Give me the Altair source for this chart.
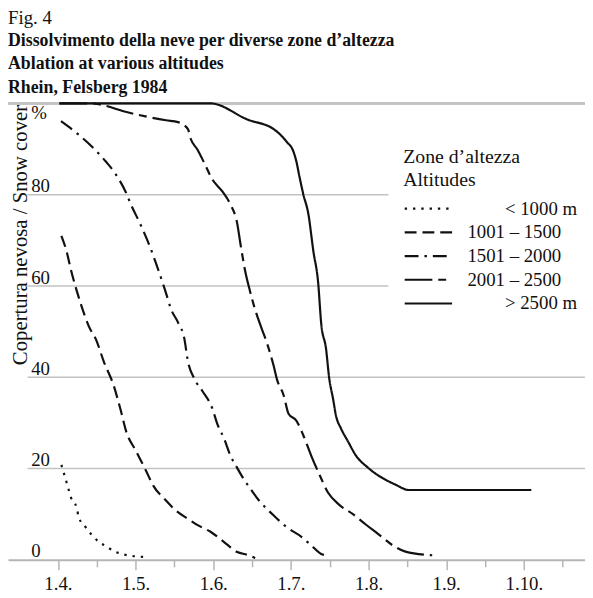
import altair as alt
import pandas as pd

SERIF = "Liberation Serif"
INK = "#111111"
GRID = "#c2c2c2"

# ---- data (x in months: 4 = 1.4., 5 = 1.5., ... ; y = snow cover %) ----
series_names = ["< 1000 m", "1001 – 1500", "1501 – 2000", "2001 – 2500", "> 2500 m"]
legend_indent = [True, False, False, False, True]

s1_x = [4.045, 4.12, 4.17, 4.24, 4.27, 4.36, 4.44, 4.53, 4.62, 4.72, 4.82, 4.94, 5.14]
s1_y = [20.8, 16.5, 13.6, 11.5, 9.3, 7.1, 5.4, 3.9, 3.0, 1.9, 1.3, 0.9, 0.6]

s2_x = [4.045, 4.11, 4.17, 4.24, 4.30, 4.40, 4.49, 4.59, 4.72, 4.81, 4.88, 5.00, 5.13,
        5.23, 5.38, 5.52, 5.70, 5.80, 5.97, 6.14, 6.31, 6.44, 6.54]
s2_y = [71.0, 67.7, 63.4, 59.1, 55.8, 51.1, 48.3, 43.5, 38.1, 32.7, 28.1, 24.0, 19.7,
        16.2, 13.2, 10.8, 8.7, 7.6, 6.1, 3.9, 1.7, 1.1, 0.4]

s3_x = [4.04, 4.27, 4.44, 4.62, 4.74, 4.87, 4.95, 5.06, 5.19, 5.25, 5.38, 5.46, 5.55,
        5.63, 5.67, 5.76, 5.86, 5.99, 6.05, 6.14, 6.22, 6.31, 6.40, 6.47, 6.59, 6.78,
        6.95, 7.14, 7.26, 7.39, 7.49]
s3_y = [96.1, 93.1, 90.5, 87.2, 84.6, 80.7, 77.5, 73.6, 68.4, 65.6, 59.1, 54.8, 51.9,
        48.3, 43.9, 39.6, 37.0, 33.1, 29.9, 26.6, 22.9, 20.1, 17.5, 15.8, 13.0, 9.7,
        7.1, 5.0, 3.2, 1.3, 0.9]

s4_x = [4.02, 4.45, 4.528, 4.884, 5.393, 5.546, 5.673, 5.711, 5.80, 5.889, 5.991, 6.118,
        6.22, 6.31, 6.35, 6.41, 6.47, 6.54, 6.63, 6.69, 6.78, 6.82, 6.91, 6.97, 7.07,
        7.16, 7.26, 7.37, 7.48, 7.62, 7.80, 7.96, 8.13, 8.31, 8.475, 8.82]
s4_y = [100.0, 100.0, 99.8, 98.1, 96.3, 95.9, 94.4, 92.2, 89.8, 86.8, 83.3, 80.7,
        77.9, 73.6, 69.3, 63.4, 59.1, 54.8, 50.4, 47.6, 42.4, 39.6, 35.9, 32.0, 30.5,
        27.3, 22.9, 18.6, 14.7, 12.1, 10.0, 7.8, 5.6, 3.2, 1.8, 1.0]

s5_x = [4.02, 5.966, 6.436, 6.792, 6.945, 7.034, 7.072, 7.11, 7.16, 7.225, 7.289, 7.352,
        7.39, 7.454, 7.492, 7.543, 7.581, 7.645, 7.734, 7.836, 8.0, 8.344, 8.523, 10.096]
s5_y = [100.0, 100.0, 96.5, 94.2, 91.6, 89.4, 87.2, 84.0, 80.1, 75.8, 67.7, 60.6,
        51.9, 46.1, 40.0, 35.3, 31.6, 28.8, 26.0, 22.9, 20.1, 16.5, 15.3, 15.3]

dash_patterns = [[2.4, 6], [12, 6], [14, 6, 2.5, 6], [28, 6, 8, 6], [1, 0]]

x_ticks = [4, 4.5, 5, 5.5, 6, 6.5, 7, 7.5, 8, 8.5, 9, 9.5, 10, 10.5]
x_tick_labels = ["1.4.", "1.5.", "1.6.", "1.7.", "1.8.", "1.9.", "1.10."]
y_ticks = [0, 20, 40, 60, 80, 100]
y_tick_labels = ["0", "20", "40", "60", "80", "%"]
grid_values = [20, 40, 60, 80]

x_min, x_max = 3.3575, 10.7875
grid_left = 3.61

# ---- build table ----
rows = []
for name, xs, ys in zip(series_names, [s1_x, s2_x, s3_x, s4_x, s5_x],
                        [s1_y, s2_y, s3_y, s4_y, s5_y]):
    for i, (a, b) in enumerate(zip(xs, ys)):
        rows.append({"zone": name, "month": a, "pct": b, "order": i})
df = pd.DataFrame(rows)
grid_df = pd.DataFrame({"pct": grid_values})


def js_list(items):
    return "[" + ",".join("'" + str(s) + "'" for s in items) + "]"


x_label_expr = "datum.value % 1 ? '' : " + js_list(x_tick_labels) + "[datum.value - 4]"
y_label_expr = js_list(y_tick_labels) + "[indexof([" + ",".join(str(v) for v in y_ticks) + "], datum.value)]"
# zero-width space keeps the indent from being trimmed
pad = "\u200b" + "\u00a0" * 8
legend_display = [(pad + n) if ind else n for n, ind in zip(series_names, legend_indent)]
legend_label_expr = js_list(legend_display) + "[indexof(" + js_list(series_names) + ", datum.label)]"

x_scale = alt.Scale(domain=[x_min, x_max], nice=False, zero=False)
y_scale = alt.Scale(domain=[0, 100], nice=False, zero=False)

x_axis = alt.Axis(
    values=x_ticks, labelExpr=x_label_expr, grid=False, title=None,
    domainColor="#b5b5b5", domainWidth=2, tickColor="#b5b5b5", tickWidth=1.5,
    tickSize={"condition": {"test": "datum.value % 1 === 0", "value": 10}, "value": 7},
    labelPadding=20, labelBaseline="alphabetic", labelFont=SERIF, labelFontSize=19,
    labelColor=INK, labelFlush=False, labelOverlap=False)
y_axis = alt.Axis(
    values=y_ticks, labelExpr=y_label_expr, grid=False, domain=False, ticks=False,
    labelAlign="left", labelPadding=-23, labelBaseline="alphabetic",
    labelOffset={"condition": {"test": "datum.value == 100", "value": 15}, "value": -3},
    labelFont=SERIF, labelFontSize=19, labelColor=INK,
    title="Copertura nevosa / Snow cover", titleAngle=270, titleAlign="right",
    titleBaseline="alphabetic", titleX=19, titleY=1, titleFont=SERIF,
    titleFontSize=21, titleFontWeight="normal", titleColor=INK)

grid = alt.Chart(grid_df).mark_rule(color=GRID, strokeWidth=1.6).encode(
    y=alt.Y("pct:Q", scale=y_scale, axis=y_axis),
    x=alt.datum(grid_left, scale=x_scale, axis=x_axis),
    x2=alt.datum(x_max),
)
top_line = alt.Chart(grid_df).mark_rule(color=GRID, strokeWidth=2).encode(
    y=alt.datum(100),
    x=alt.datum(x_min),
    x2=alt.datum(x_max),
)

lines = alt.Chart(df).mark_line(color=INK, strokeWidth=2.2, interpolate="monotone").encode(
    x=alt.X("month:Q", scale=x_scale, axis=x_axis),
    y=alt.Y("pct:Q", scale=y_scale, axis=y_axis),
    strokeDash=alt.StrokeDash("zone:N", scale=alt.Scale(domain=series_names, range=dash_patterns),
        sort=series_names,
        legend=alt.Legend(
            title=["Zone d’altezza", "Altitudes"], orient="none", legendX=385, legendY=29,
            symbolType="M-2,0H2", symbolSize=576, symbolOffset=12, symbolStrokeWidth=2.2,
            symbolStrokeColor=INK, symbolFillColor="transparent",
            labelExpr=legend_label_expr, fillColor="white", labelLimit=200,
            padding=15, titleFont=SERIF, titleFontSize=20, titleFontWeight="normal",
            titleLineHeight=24, titleColor=INK, titlePadding=5, labelFont=SERIF,
            labelFontSize=19, labelColor=INK, labelOffset=26, rowPadding=0)),
    order="order:Q",
)

chart = alt.layer(grid, top_line, lines).properties(
    width=584, height=462,
    title=alt.TitleParams(
        text="Fig. 4",
        subtitle=["Dissolvimento della neve per diverse zone d’altezza",
                  "Ablation at various altitudes", "Rhein, Felsberg 1984"],
        anchor="start", frame="group", font=SERIF, fontSize=19, fontWeight="normal",
        color=INK, subtitleFont=SERIF, subtitleFontSize=18, subtitleFontWeight="bold",
        subtitleColor=INK, subtitleLineHeight=24, subtitlePadding=4, offset=2),
    autosize=alt.AutoSizeParams(type="none"),
    padding={"left": 0, "top": 93, "right": 0, "bottom": 30},
    background="white",
).configure_view(stroke=None)

chart.save("out.html", embed_options={"renderer": "svg", "actions": False})
